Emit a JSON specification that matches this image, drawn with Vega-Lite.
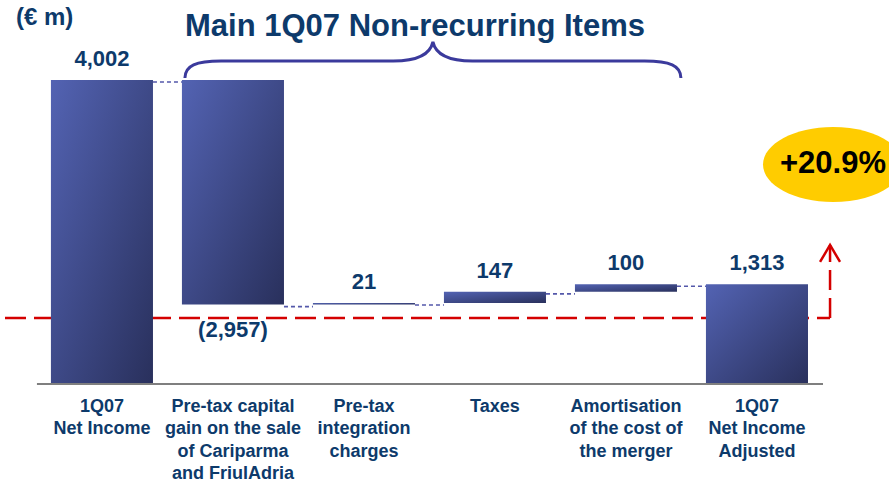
{
  "$schema": "https://vega.github.io/schema/vega-lite/v6.json",
  "width": 889,
  "height": 482,
  "autosize": "none",
  "padding": 0,
  "background": "white",
  "config": {"view": {"stroke": null}, "font": "Liberation Sans"},
  "datasets": {
    "bars": [
      {"cat": "1Q07|Net Income", "lo": 0, "hi": 4002, "label": "4,002", "kind": "total"},
      {"cat": "Pre-tax capital|gain on the sale|of Cariparma|and FriulAdria", "lo": 1045, "hi": 4002, "label": "(2,957)", "kind": "neg"},
      {"cat": "Pre-tax|integration|charges", "lo": 1045, "hi": 1066, "label": "21", "kind": "pos"},
      {"cat": "Taxes", "lo": 1066, "hi": 1213, "label": "147", "kind": "pos"},
      {"cat": "Amortisation|of the cost of|the merger", "lo": 1213, "hi": 1313, "label": "100", "kind": "pos"},
      {"cat": "1Q07|Net Income|Adjusted", "lo": 0, "hi": 1313, "label": "1,313", "kind": "total"}
    ],
    "links": [
      {"from": "1Q07|Net Income", "to": "Pre-tax capital|gain on the sale|of Cariparma|and FriulAdria", "level": 4002},
      {"from": "Pre-tax capital|gain on the sale|of Cariparma|and FriulAdria", "to": "Pre-tax|integration|charges", "level": 1045},
      {"from": "Pre-tax|integration|charges", "to": "Taxes", "level": 1066},
      {"from": "Taxes", "to": "Amortisation|of the cost of|the merger", "level": 1213},
      {"from": "Amortisation|of the cost of|the merger", "to": "1Q07|Net Income|Adjusted", "level": 1313}
    ]
  },
  "layer": [
    {
      "data": {"name": "links"},
      "mark": {"type": "rule", "color": "#5458aa", "strokeDash": [4, 3], "strokeWidth": 1.6, "yOffset": 2},
      "encoding": {
        "x": {
          "field": "from", "type": "nominal", "title": null, "bandPosition": 1,
          "scale": {
            "domain": ["1Q07|Net Income", "Pre-tax capital|gain on the sale|of Cariparma|and FriulAdria", "Pre-tax|integration|charges", "Taxes", "Amortisation|of the cost of|the merger", "1Q07|Net Income|Adjusted"],
            "paddingInner": 0.221, "paddingOuter": 0.5035, "align": 0.386
          },
          "axis": {
            "orient": "bottom", "offset": -98, "domain": false, "ticks": false,
            "labelExpr": "split(datum.value, '|')",
            "labelFont": "Liberation Sans", "labelFontSize": 18, "labelFontWeight": "bold",
            "labelColor": "#0d3a6b", "labelPadding": 13, "labelBaseline": "top", "labelLineHeight": 22.5,
            "labelOverlap": false, "labelBound": false, "labelAngle": 0
          }
        },
        "x2": {"field": "to", "bandPosition": 0},
        "y": {"field": "level", "type": "quantitative", "scale": {"domain": [-1290, 5055], "nice": false, "zero": false}, "axis": null}
      }
    },
    {
      "data": {"values": [{}]},
      "mark": {"type": "rule", "color": "#d40000", "strokeDash": [21, 8], "strokeWidth": 2.5},
      "encoding": {
        "x": {"datum": "1Q07|Net Income", "bandPosition": -0.45, "type": "nominal", "title": null},
        "x2": {"datum": "1Q07|Net Income|Adjusted", "bandPosition": 1.216},
        "y": {"datum": 869, "type": "quantitative"}
      }
    },
    {
      "data": {"name": "bars"},
      "mark": {"type": "bar", "fill": {"gradient": "linear", "x1": 0, "y1": 0, "x2": 1, "y2": 1, "stops": [{"offset": 0, "color": "#5363b3"}, {"offset": 1, "color": "#29305c"}]}, "stroke": null},
      "encoding": {
        "x": {"field": "cat", "type": "nominal", "title": null},
        "y": {"field": "lo", "type": "quantitative"},
        "y2": {"field": "hi"}
      }
    },
    {
      "data": {"values": [{}]},
      "mark": {"type": "rule", "color": "#d40000", "strokeDash": [20, 8], "strokeWidth": 2.5},
      "encoding": {
        "x": {"datum": "1Q07|Net Income|Adjusted", "bandPosition": 1.216, "type": "nominal", "title": null},
        "y": {"datum": 869, "type": "quantitative"},
        "y2": {"datum": 1830}
      }
    },
    {
      "data": {"values": [{}]},
      "mark": {"type": "point", "shape": "M-1,1.7L0,0L1,1.7", "size": 400, "filled": false, "stroke": "#d40000", "strokeWidth": 2.5, "opacity": 1},
      "encoding": {
        "x": {"datum": "1Q07|Net Income|Adjusted", "bandPosition": 1.216, "type": "nominal", "title": null},
        "y": {"datum": 1830, "type": "quantitative"}
      }
    },
    {
      "data": {"name": "bars"},
      "transform": [{"filter": "datum.kind != 'neg'"}],
      "mark": {"type": "text", "font": "Liberation Sans", "fontSize": 22, "fontWeight": "bold", "color": "#0d3a6b", "baseline": "middle", "align": "center", "dy": -21},
      "encoding": {
        "x": {"field": "cat", "type": "nominal", "title": null},
        "y": {"field": "hi", "type": "quantitative"},
        "text": {"field": "label"}
      }
    },
    {
      "data": {"name": "bars"},
      "transform": [{"filter": "datum.kind == 'neg'"}],
      "mark": {"type": "text", "font": "Liberation Sans", "fontSize": 22, "fontWeight": "bold", "color": "#0d3a6b", "baseline": "middle", "align": "center", "dy": 25},
      "encoding": {
        "x": {"field": "cat", "type": "nominal", "title": null},
        "y": {"field": "lo", "type": "quantitative"},
        "text": {"field": "label"}
      }
    },
    {
      "data": {"values": [{}]},
      "mark": {"type": "rule", "color": "#7f7f7f", "strokeWidth": 2},
      "encoding": {
        "x": {"datum": "1Q07|Net Income", "bandPosition": -0.137, "type": "nominal", "title": null},
        "x2": {"datum": "1Q07|Net Income|Adjusted", "bandPosition": 1.147},
        "y": {"datum": 0, "type": "quantitative"}
      }
    },
    {
      "data": {"values": [{}]},
      "mark": {"type": "point", "shape": "M-1,0.069C-1,0.02,-0.96,-0.002,-0.84,0L-0.16,0C-0.06,0,-0.01,-0.03,0,-0.077C0.01,-0.03,0.06,0,0.16,0L0.84,0C0.96,-0.002,1,0.02,1,0.069", "size": 246016, "filled": false, "stroke": "#3b3a9c", "strokeWidth": 3, "opacity": 1},
      "encoding": {
        "x": {"datum": "Taxes", "bandPosition": -0.108, "type": "nominal", "title": null},
        "y": {"datum": 4252, "type": "quantitative"}
      }
    },
    {
      "data": {"values": [{}]},
      "mark": {"type": "text", "text": "Main 1Q07 Non-recurring Items", "font": "Liberation Sans", "fontSize": 31, "fontWeight": "bold", "color": "#0d3a6b", "align": "center", "baseline": "middle"},
      "encoding": {
        "x": {"datum": "Pre-tax|integration|charges", "bandPosition": 1, "type": "nominal", "title": null},
        "y": {"datum": 4697, "type": "quantitative"}
      }
    },
    {
      "data": {"values": [{}]},
      "mark": {"type": "text", "text": "(€ m)", "font": "Liberation Sans", "fontSize": 24, "fontWeight": "bold", "color": "#0d3a6b", "align": "left", "baseline": "middle"},
      "encoding": {
        "x": {"datum": "1Q07|Net Income", "bandPosition": -0.343, "type": "nominal", "title": null},
        "y": {"datum": 4818, "type": "quantitative"}
      }
    },
    {
      "data": {"values": [{}]},
      "mark": {"type": "point", "shape": "M-1,0A1,0.536,0,1,0,1,0A1,0.536,0,1,0,-1,0Z", "size": 19600, "filled": true, "fill": "#ffcc00", "stroke": null, "opacity": 1},
      "encoding": {
        "x": {"datum": "1Q07|Net Income|Adjusted", "bandPosition": 1.245, "type": "nominal", "title": null},
        "y": {"datum": 2890, "type": "quantitative"}
      }
    },
    {
      "data": {"values": [{}]},
      "mark": {"type": "text", "text": "+20.9%", "font": "Liberation Sans", "fontSize": 31, "fontWeight": "bold", "color": "#000000", "align": "center", "baseline": "middle"},
      "encoding": {
        "x": {"datum": "1Q07|Net Income|Adjusted", "bandPosition": 1.245, "type": "nominal", "title": null},
        "y": {"datum": 2890, "type": "quantitative"}
      }
    }
  ]
}
